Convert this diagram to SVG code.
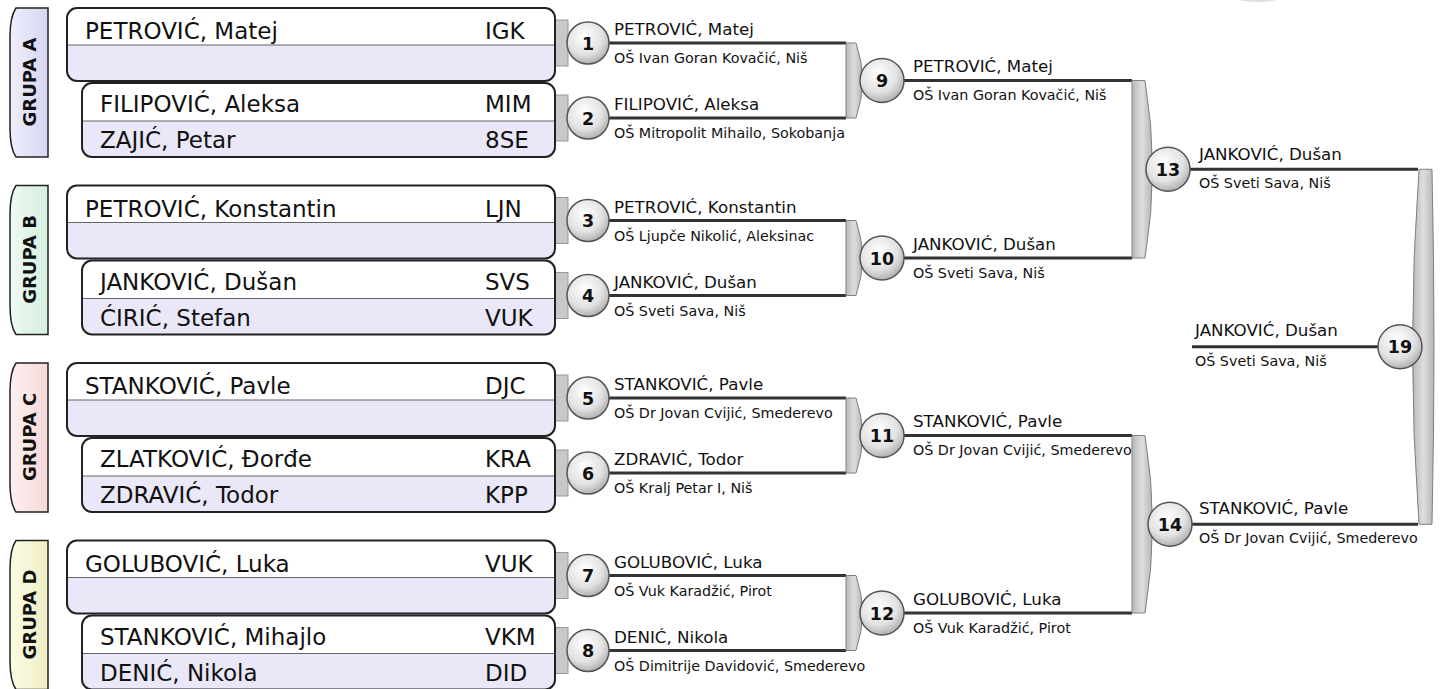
<svg xmlns="http://www.w3.org/2000/svg" width="1440" height="689" viewBox="0 0 1440 689">
<defs>
<radialGradient id="ball" cx="0.42" cy="0.35" r="0.7">
<stop offset="0" stop-color="#ffffff"/>
<stop offset="0.6" stop-color="#e2e2e2"/>
<stop offset="1" stop-color="#a8a8a8"/>
</radialGradient>
<linearGradient id="barg" x1="0" y1="0" x2="1" y2="0">
<stop offset="0" stop-color="#b8b8b8"/>
<stop offset="0.5" stop-color="#dedede"/>
<stop offset="1" stop-color="#b4b4b4"/>
</linearGradient>
<linearGradient id="tabA" x1="0" y1="0" x2="1" y2="0"><stop offset="0" stop-color="#eeeefc"/><stop offset="1" stop-color="#d6d6f2"/></linearGradient>
<linearGradient id="tabB" x1="0" y1="0" x2="1" y2="0"><stop offset="0" stop-color="#eefaf2"/><stop offset="1" stop-color="#d4efdf"/></linearGradient>
<linearGradient id="tabC" x1="0" y1="0" x2="1" y2="0"><stop offset="0" stop-color="#fdf0f0"/><stop offset="1" stop-color="#f6d8d8"/></linearGradient>
<linearGradient id="tabD" x1="0" y1="0" x2="1" y2="0"><stop offset="0" stop-color="#fbfbe6"/><stop offset="1" stop-color="#f0eec4"/></linearGradient>
</defs>
<style>
text{font-family:"DejaVu Sans","Liberation Sans",sans-serif;fill:#111}
.box{fill:#e9e7f8}
.top{fill:#ffffff}
.frame{fill:none;stroke:#222;stroke-width:2}
.sep{stroke:#666;stroke-width:1}
.big{font-size:23px}
.tabt{font-size:18px;font-weight:bold}
.tab{stroke:#222;stroke-width:1.5}
.ball{fill:url(#ball);stroke:#555;stroke-width:1.5}
.num{font-size:17.5px;font-weight:bold;text-anchor:middle}
.nub{fill:#c8c8c8;stroke:#999;stroke-width:1}
.bar{fill:url(#barg);stroke:#808080;stroke-width:1}
.ln{stroke:#333;stroke-width:3;fill:none}
.nm{font-size:16.7px}
.sc{font-size:14.3px}
</style>

<ellipse cx="1258" cy="-15" rx="40" ry="17" fill="#c4c4c4" opacity="0.55"/>

<!-- connectors -->
<g id="connectors">
<line class="ln" x1="608" y1="43" x2="846" y2="43"/>
<line class="ln" x1="608" y1="118" x2="846" y2="118"/>
<line class="ln" x1="608" y1="220.5" x2="846" y2="220.5"/>
<line class="ln" x1="608" y1="295.5" x2="846" y2="295.5"/>
<line class="ln" x1="608" y1="398" x2="846" y2="398"/>
<line class="ln" x1="608" y1="473" x2="846" y2="473"/>
<line class="ln" x1="608" y1="575.5" x2="846" y2="575.5"/>
<line class="ln" x1="608" y1="650.5" x2="846" y2="650.5"/>
<path class="bar" d="M846,43 H856 Q869,80.5 856,118 H846 Z"/>
<path class="bar" d="M846,220.5 H856 Q869,258 856,295.5 H846 Z"/>
<path class="bar" d="M846,398 H856 Q869,435.5 856,473 H846 Z"/>
<path class="bar" d="M846,575.5 H856 Q869,613 856,650.5 H846 Z"/>
<line class="ln" x1="904" y1="80.5" x2="1132" y2="80.5"/>
<line class="ln" x1="904" y1="258" x2="1132" y2="258"/>
<line class="ln" x1="904" y1="435.5" x2="1132" y2="435.5"/>
<line class="ln" x1="904" y1="613" x2="1132" y2="613"/>
<path class="bar" d="M1132,80.5 H1145 Q1160,169.25 1145,258 H1132 Z"/>
<path class="bar" d="M1132,435.5 H1145 Q1160,524.25 1145,613 H1132 Z"/>
<line class="ln" x1="1190" y1="169.25" x2="1418" y2="169.25"/>
<line class="ln" x1="1190" y1="524.25" x2="1418" y2="524.25"/>
<path class="bar" d="M1432,169.25 H1419 Q1406,346.75 1419,524.25 H1432 Q1436,346.75 1432,169.25 Z"/>
<line class="ln" x1="1192" y1="346.75" x2="1380" y2="346.75"/>
</g>

<!-- group tabs -->
<g id="grupa-a"><path class="tab" fill="url(#tabA)" d="M16,8 H48 V157 H16 C11,150 10,140 10,128 V37 C10,25 11,15 16,8 Z"/><text class="tabt" transform="translate(35.5,82) rotate(-90)" text-anchor="middle">GRUPA A</text></g>
<g id="grupa-b"><path class="tab" fill="url(#tabB)" d="M16,185.5 H48 V334.5 H16 C11,327.5 10,317.5 10,305.5 V214.5 C10,202.5 11,192.5 16,185.5 Z"/><text class="tabt" transform="translate(35.5,259.5) rotate(-90)" text-anchor="middle">GRUPA B</text></g>
<g id="grupa-c"><path class="tab" fill="url(#tabC)" d="M16,363 H48 V512 H16 C11,505 10,495 10,483 V392 C10,380 11,370 16,363 Z"/><text class="tabt" transform="translate(35.5,437) rotate(-90)" text-anchor="middle">GRUPA C</text></g>
<g id="grupa-d"><path class="tab" fill="url(#tabD)" d="M16,540.5 H48 V689.5 H16 C11,682.5 10,672.5 10,660.5 V569.5 C10,557.5 11,547.5 16,540.5 Z"/><text class="tabt" transform="translate(35.5,614.5) rotate(-90)" text-anchor="middle">GRUPA D</text></g>

<!-- group A boxes -->
<g id="box-a1">
<rect class="nub" x="555" y="20" width="13" height="46"/>
<rect class="box" x="67" y="8" width="488" height="73" rx="10"/>
<path class="top" d="M67,45 V18 Q67,8 77,8 H545 Q555,8 555,18 V45 Z"/>
<line class="sep" x1="67" y1="45" x2="555" y2="45"/>
<rect class="frame" x="67" y="8" width="488" height="73" rx="10"/>
<text class="big" x="85" y="39">PETROVIĆ, Matej</text><text class="big" x="485" y="39">IGK</text>
</g>
<g id="box-a2">
<rect class="nub" x="555" y="95" width="13" height="46"/>
<rect class="box" x="82" y="83" width="473" height="74" rx="10"/>
<path class="top" d="M82,121 V93 Q82,83 92,83 H545 Q555,83 555,93 V121 Z"/>
<line class="sep" x1="82" y1="121" x2="555" y2="121"/>
<rect class="frame" x="82" y="83" width="473" height="74" rx="10"/>
<text class="big" x="100" y="112">FILIPOVIĆ, Aleksa</text><text class="big" x="485" y="112">MIM</text>
<text class="big" x="100" y="148">ZAJIĆ, Petar</text><text class="big" x="485" y="148">8SE</text>
</g>

<!-- group B boxes -->
<g id="box-b1">
<rect class="nub" x="555" y="197.5" width="13" height="46"/>
<rect class="box" x="67" y="185.5" width="488" height="73" rx="10"/>
<path class="top" d="M67,222.5 V195.5 Q67,185.5 77,185.5 H545 Q555,185.5 555,195.5 V222.5 Z"/>
<line class="sep" x1="67" y1="222.5" x2="555" y2="222.5"/>
<rect class="frame" x="67" y="185.5" width="488" height="73" rx="10"/>
<text class="big" x="85" y="216.5">PETROVIĆ, Konstantin</text><text class="big" x="485" y="216.5">LJN</text>
</g>
<g id="box-b2">
<rect class="nub" x="555" y="272.5" width="13" height="46"/>
<rect class="box" x="82" y="260.5" width="473" height="74" rx="10"/>
<path class="top" d="M82,298.5 V270.5 Q82,260.5 92,260.5 H545 Q555,260.5 555,270.5 V298.5 Z"/>
<line class="sep" x1="82" y1="298.5" x2="555" y2="298.5"/>
<rect class="frame" x="82" y="260.5" width="473" height="74" rx="10"/>
<text class="big" x="100" y="289.5">JANKOVIĆ, Dušan</text><text class="big" x="485" y="289.5">SVS</text>
<text class="big" x="100" y="325.5">ĆIRIĆ, Stefan</text><text class="big" x="485" y="325.5">VUK</text>
</g>

<!-- group C boxes -->
<g id="box-c1">
<rect class="nub" x="555" y="375" width="13" height="46"/>
<rect class="box" x="67" y="363" width="488" height="73" rx="10"/>
<path class="top" d="M67,400 V373 Q67,363 77,363 H545 Q555,363 555,373 V400 Z"/>
<line class="sep" x1="67" y1="400" x2="555" y2="400"/>
<rect class="frame" x="67" y="363" width="488" height="73" rx="10"/>
<text class="big" x="85" y="394">STANKOVIĆ, Pavle</text><text class="big" x="485" y="394">DJC</text>
</g>
<g id="box-c2">
<rect class="nub" x="555" y="450" width="13" height="46"/>
<rect class="box" x="82" y="438" width="473" height="74" rx="10"/>
<path class="top" d="M82,476 V448 Q82,438 92,438 H545 Q555,438 555,448 V476 Z"/>
<line class="sep" x1="82" y1="476" x2="555" y2="476"/>
<rect class="frame" x="82" y="438" width="473" height="74" rx="10"/>
<text class="big" x="100" y="467">ZLATKOVIĆ, Đorđe</text><text class="big" x="485" y="467">KRA</text>
<text class="big" x="100" y="503">ZDRAVIĆ, Todor</text><text class="big" x="485" y="503">KPP</text>
</g>

<!-- group D boxes -->
<g id="box-d1">
<rect class="nub" x="555" y="552.5" width="13" height="46"/>
<rect class="box" x="67" y="540.5" width="488" height="73" rx="10"/>
<path class="top" d="M67,577.5 V550.5 Q67,540.5 77,540.5 H545 Q555,540.5 555,550.5 V577.5 Z"/>
<line class="sep" x1="67" y1="577.5" x2="555" y2="577.5"/>
<rect class="frame" x="67" y="540.5" width="488" height="73" rx="10"/>
<text class="big" x="85" y="571.5">GOLUBOVIĆ, Luka</text><text class="big" x="485" y="571.5">VUK</text>
</g>
<g id="box-d2">
<rect class="nub" x="555" y="627.5" width="13" height="46"/>
<rect class="box" x="82" y="615.5" width="473" height="74" rx="10"/>
<path class="top" d="M82,653.5 V625.5 Q82,615.5 92,615.5 H545 Q555,615.5 555,625.5 V653.5 Z"/>
<line class="sep" x1="82" y1="653.5" x2="555" y2="653.5"/>
<rect class="frame" x="82" y="615.5" width="473" height="74" rx="10"/>
<text class="big" x="100" y="644.5">STANKOVIĆ, Mihajlo</text><text class="big" x="485" y="644.5">VKM</text>
<text class="big" x="100" y="680.5">DENIĆ, Nikola</text><text class="big" x="485" y="680.5">DID</text>
</g>

<!-- round 1 matches -->
<g id="m1"><circle class="ball" cx="588" cy="43" r="21"/><text class="num" x="588" y="49.5">1</text><text class="nm" x="614" y="35">PETROVIĆ, Matej</text><text class="sc" x="614" y="63">OŠ Ivan Goran Kovačić, Niš</text></g>
<g id="m2"><circle class="ball" cx="588" cy="118" r="21"/><text class="num" x="588" y="124.5">2</text><text class="nm" x="614" y="110">FILIPOVIĆ, Aleksa</text><text class="sc" x="614" y="138">OŠ Mitropolit Mihailo, Sokobanja</text></g>
<g id="m3"><circle class="ball" cx="588" cy="220.5" r="21"/><text class="num" x="588" y="227">3</text><text class="nm" x="614" y="212.5">PETROVIĆ, Konstantin</text><text class="sc" x="614" y="240.5">OŠ Ljupče Nikolić, Aleksinac</text></g>
<g id="m4"><circle class="ball" cx="588" cy="295.5" r="21"/><text class="num" x="588" y="302">4</text><text class="nm" x="614" y="287.5">JANKOVIĆ, Dušan</text><text class="sc" x="614" y="315.5">OŠ Sveti Sava, Niš</text></g>
<g id="m5"><circle class="ball" cx="588" cy="398" r="21"/><text class="num" x="588" y="404.5">5</text><text class="nm" x="614" y="390">STANKOVIĆ, Pavle</text><text class="sc" x="614" y="418">OŠ Dr Jovan Cvijić, Smederevo</text></g>
<g id="m6"><circle class="ball" cx="588" cy="473" r="21"/><text class="num" x="588" y="479.5">6</text><text class="nm" x="614" y="465">ZDRAVIĆ, Todor</text><text class="sc" x="614" y="493">OŠ Kralj Petar I, Niš</text></g>
<g id="m7"><circle class="ball" cx="588" cy="575.5" r="21"/><text class="num" x="588" y="582">7</text><text class="nm" x="614" y="567.5">GOLUBOVIĆ, Luka</text><text class="sc" x="614" y="595.5">OŠ Vuk Karadžić, Pirot</text></g>
<g id="m8"><circle class="ball" cx="588" cy="650.5" r="21"/><text class="num" x="588" y="657">8</text><text class="nm" x="614" y="642.5">DENIĆ, Nikola</text><text class="sc" x="614" y="670.5">OŠ Dimitrije Davidović, Smederevo</text></g>

<!-- round 2 -->
<g id="m9"><circle class="ball" cx="882" cy="80.5" r="22"/><text class="num" x="882" y="87">9</text><text class="nm" x="913" y="72">PETROVIĆ, Matej</text><text class="sc" x="913" y="100">OŠ Ivan Goran Kovačić, Niš</text></g>
<g id="m10"><circle class="ball" cx="882" cy="258" r="22"/><text class="num" x="882" y="264.5">10</text><text class="nm" x="913" y="249.5">JANKOVIĆ, Dušan</text><text class="sc" x="913" y="277.5">OŠ Sveti Sava, Niš</text></g>
<g id="m11"><circle class="ball" cx="882" cy="435.5" r="22"/><text class="num" x="882" y="442">11</text><text class="nm" x="913" y="427">STANKOVIĆ, Pavle</text><text class="sc" x="913" y="455">OŠ Dr Jovan Cvijić, Smederevo</text></g>
<g id="m12"><circle class="ball" cx="882" cy="613" r="22"/><text class="num" x="882" y="619.5">12</text><text class="nm" x="913" y="604.5">GOLUBOVIĆ, Luka</text><text class="sc" x="913" y="632.5">OŠ Vuk Karadžić, Pirot</text></g>

<!-- round 3 -->
<g id="m13"><circle class="ball" cx="1168" cy="169.25" r="22"/><text class="num" x="1168" y="175.75">13</text><text class="nm" x="1199" y="160">JANKOVIĆ, Dušan</text><text class="sc" x="1199" y="188">OŠ Sveti Sava, Niš</text></g>
<g id="m14"><circle class="ball" cx="1170" cy="524.25" r="22"/><text class="num" x="1170" y="530.75">14</text><text class="nm" x="1199" y="514">STANKOVIĆ, Pavle</text><text class="sc" x="1199" y="543">OŠ Dr Jovan Cvijić, Smederevo</text></g>

<!-- final -->
<g id="m19"><circle class="ball" cx="1400" cy="346.75" r="22"/><text class="num" x="1400" y="353.25">19</text><text class="nm" x="1195" y="336">JANKOVIĆ, Dušan</text><text class="sc" x="1195" y="366">OŠ Sveti Sava, Niš</text></g>
</svg>
